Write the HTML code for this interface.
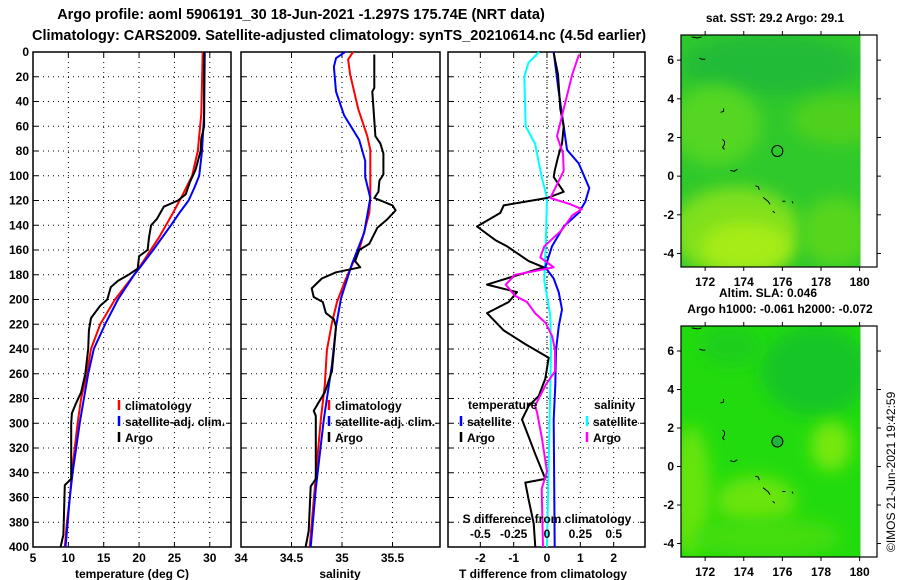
<!DOCTYPE html>
<html><head><meta charset="utf-8"><style>
body{margin:0;background:#fff;}
svg{display:block;font-family:"Liberation Sans",Arial,sans-serif;font-weight:bold;}
</style></head><body>
<svg id="chart" width="900" height="580" viewBox="0 0 900 580" xmlns="http://www.w3.org/2000/svg">
<text x="301" y="19" font-size="14.5" text-anchor="middle">Argo profile: aoml 5906191_30 18-Jun-2021 -1.297S 175.74E (NRT data)</text>
<text x="339" y="40" font-size="14.5" text-anchor="middle">Climatology: CARS2009. Satellite-adjusted climatology: synTS_20210614.nc (4.5d earlier)</text>
<g id="p1"></g>
<g id="p2"></g>
<g id="p3"></g>
<g id="m1"></g>
<g id="m2"></g>
<text x="775" y="22" font-size="12" text-anchor="middle">sat. SST: 29.2 Argo: 29.1</text>
<text x="768" y="297" font-size="12" text-anchor="middle">Altim. SLA: 0.046</text>
<text x="780" y="313" font-size="12" text-anchor="middle">Argo h1000: -0.061 h2000: -0.072</text>
<text transform="translate(895,552) rotate(-90)" font-size="12" font-weight="normal">©IMOS 21-Jun-2021 19:42:59</text>
</svg>
<script>
const depthTicks=[0,20,40,60,80,100,120,140,160,180,200,220,240,260,280,300,320,340,360,380,400];
// temperature panel
const tClimD=[0,50,80,100,115,130,150,170,180,200,220,240,260,280,300,340,360,380,400];
const tClimV=[29.0,28.8,28.3,27.5,26.2,24.8,22.8,20.5,19.3,16.6,14.5,13.2,12.6,11.8,11.3,10.5,10.2,9.8,9.5];
const tSatD=[0,50,80,100,110,120,130,140,160,175,180,200,220,240,260,280,300,340,360,380,400];
const tSatV=[29.3,29.2,28.9,28.5,27.8,27.0,25.7,24.5,22.0,20.0,19.3,17.0,15.2,13.6,12.8,12.2,11.6,10.6,10.2,9.9,9.6];
const tArgoD=[0,60,70,80,95,105,115,120,125,135,140,150,160,165,175,180,185,190,200,205,215,225,240,260,275,285,292,300,345,350,390,400];
const tArgoV=[29.2,29.2,28.8,28.7,28.0,27.2,26.6,25.5,23.5,22.5,21.7,21.4,21.2,20.0,19.8,18.5,17.0,16.0,15.5,14.5,13.2,12.9,12.8,12.4,11.8,11.0,10.5,10.4,10.4,9.5,9.3,8.9];
const tTicks=[5,10,15,20,25,30];
// salinity panel
const sClimD=[0,6,18,46,68,79,118,130,157,185,202,219,241,269,297,353,400];
const sClimV=[35.11,35.06,35.08,35.16,35.25,35.28,35.28,35.27,35.18,35.03,34.95,34.9,34.85,34.83,34.79,34.73,34.68];
const sSatD=[0,5,12,32,51,71,88,101,118,146,171,199,222,253,297,353,400];
const sSatV=[35.03,34.94,34.92,34.94,35.02,35.17,35.23,35.23,35.28,35.22,35.1,34.99,34.94,34.9,34.82,34.74,34.69];
const sArgoD=[2,29,32,68,74,82,99,104,113,118,124,128,135,142,155,160,169,174,178,183,191,198,202,211,216,222,241,258,275,283,290,294,345,351,387,400];
const sArgoV=[35.32,35.32,35.3,35.33,35.38,35.41,35.41,35.37,35.36,35.32,35.5,35.53,35.45,35.35,35.27,35.17,35.13,35.18,34.94,34.8,34.7,34.72,34.81,34.84,34.92,34.94,34.92,34.9,34.83,34.77,34.72,34.74,34.74,34.69,34.67,34.64];
const sTicks=[34,34.5,35,35.5];
// difference panel
const dTSatD=[0,32,60,79,90,110,121,130,141,157,174,183,194,208,222,241,269,297,400];
const dTSatV=[0.2,0.35,0.5,0.6,0.95,1.27,1.15,0.95,0.5,0.15,-0.05,0.2,0.35,0.45,0.35,0.27,0.25,0.2,0.23];
const dTArgoD=[1,18,46,60,74,85,96,101,113,118,124,130,141,152,157,169,174,180,188,194,202,211,225,236,247,264,278,286,297,311,325,345,348,362,381,400];
const dTArgoV=[0.2,0.33,0.4,0.5,0.45,0.33,0.23,0.2,0.5,0,-1.3,-1.4,-2.1,-1.55,-1.2,-0.55,-0.1,-0.85,-1.8,-0.9,-1.15,-1.8,-1.3,-0.65,0.05,-0.05,-0.25,-0.55,-0.75,-0.55,-0.35,-0.05,-0.65,-0.55,-0.4,-0.35];
const dSSatD=[0,9,20,60,74,101,118,157,185,213,241,269,400];
const dSSatV=[-0.06,-0.14,-0.17,-0.16,-0.09,-0.04,0,-0.01,-0.02,0.025,0.03,0.025,0];
const dSArgoD=[2,18,46,68,82,96,107,118,123,127,132,144,157,166,174,177,180,188,197,202,211,219,230,241,258,269,286,291,311,339,353,400];
const dSArgoV=[0.24,0.19,0.125,0.075,0.12,0.125,0.075,0.025,0.175,0.26,0.19,0.11,-0.02,-0.05,0.05,-0.09,-0.24,-0.31,-0.24,-0.15,-0.09,-0.01,0.04,0.06,0.06,-0.01,-0.09,-0.075,-0.04,0,-0.04,-0.03];
const dTTicks=[-2,-1,0,1,2];
const dSTicks=[-0.5,-0.25,0,0.25,0.5];
const dSLabels=['-0.5','-0.25','0','0.25','0.5'];
// map data
const lonTicks=[172,174,176,178,180];
const latTicks=[-4,-2,0,2,4,6];
const floatLon=[175.74];
const floatLat=[1.3];

const NS='http://www.w3.org/2000/svg';
function mk(parent,tag,attrs){const e=document.createElementNS(NS,tag);for(const k in attrs)e.setAttribute(k,attrs[k]);parent.appendChild(e);return e;}
const Y0=52,Y1=547;
const yD=d=>Y0+(d/400)*(Y1-Y0);

function panel(g,x0,x1,vmin,vmax,ticks,showDepth){
  const xs=v=>x0+(v-vmin)/(vmax-vmin)*(x1-x0);
  ticks.forEach(t=>{
    const x=xs(t);
    if(x>x0+1&&x<x1-1){
      const l=mk(g,'line',{x1:x,x2:x,y1:Y0,y2:Y1,stroke:'#000','stroke-width':1,'stroke-dasharray':'1,4'});
      
      
    }
    const tk=mk(g,'line',{x1:x,x2:x,y1:Y1,y2:Y1-5,stroke:'#000'});
    
    
    const tk2=mk(g,'line',{x1:x,x2:x,y1:Y0,y2:Y0+5,stroke:'#000'});
    
    
  });
  depthTicks.forEach(d=>{
    const y=yD(d);
    if(d>0&&d<400){
      const l=mk(g,'line',{x1:x0,x2:x1,y1:y,y2:y,stroke:'#000','stroke-width':1,'stroke-dasharray':'1,4'});
      
      
    }
    const a=mk(g,'line',{x1:x0,x2:x0+5,y1:y,y2:y,stroke:'#000'});
    
    
    const b=mk(g,'line',{x1:x1,x2:x1-5,y1:y,y2:y,stroke:'#000'});
    
    
    if(showDepth){
      const t=mk(g,'text',{x:x0-4,y:y+4,'font-size':12,'text-anchor':'end'});
      t.textContent=d;
      
      
    }
  });
  const fr=mk(g,'rect',{x:x0,y:Y0,width:x1-x0,height:Y1-Y0,fill:'none',stroke:'#000','stroke-width':1.5});
  
  
  return xs;
}
function line(g,xs,D,V,col,name){
  const pts=D.map((d,i)=>xs(V[i]).toFixed(1)+','+yD(d).toFixed(1)).join(' ');
  const p=mk(g,'polyline',{points:pts,fill:'none',stroke:col,'stroke-width':2,'stroke-linejoin':'round'});
  
  
}
function txt(g,x,y,s,size,anchor,name,col){
  const t=mk(g,'text',{x:x,y:y,'font-size':size,'text-anchor':anchor||'start',fill:col||'#000'});
  t.textContent=s;
  
  
  return t;
}
function legend(g,x,y,col,label){
  const m=mk(g,'line',{x1:x,x2:x,y1:y-10,y2:y,stroke:col,'stroke-width':2.5});
  
  
  txt(g,x+6,y,label,12,'start','legend-entry');
}

// panel 1
const g1=document.getElementById('p1');
const x1s=panel(g1,33,231,5,33,tTicks,true);
line(g1,x1s,tClimD,tClimV,'#f00','climatology-temperature-line');
line(g1,x1s,tSatD,tSatV,'#00f','satellite-temperature-line');
line(g1,x1s,tArgoD,tArgoV,'#000','argo-temperature-line');
tTicks.forEach(t=>txt(g1,x1s(t),562,String(t),12,'middle','x-tick-label'));
txt(g1,132,578,'temperature (deg C)',12,'middle','x-axis-title');
legend(g1,119,410,'#f00','climatology');legend(g1,119,426,'#00f','satellite-adj. clim.');legend(g1,119,442,'#000','Argo');

// panel 2
const g2=document.getElementById('p2');
const x2s=panel(g2,241,440,34.0,35.97,sTicks,false);
line(g2,x2s,sClimD,sClimV,'#f00','climatology-salinity-line');
line(g2,x2s,sSatD,sSatV,'#00f','satellite-salinity-line');
line(g2,x2s,sArgoD,sArgoV,'#000','argo-salinity-line');
sTicks.forEach(t=>txt(g2,x2s(t),562,String(t),12,'middle','x-tick-label'));
txt(g2,340,578,'salinity',12,'middle','x-axis-title');
legend(g2,329,410,'#f00','climatology');legend(g2,329,426,'#00f','satellite-adj. clim.');legend(g2,329,442,'#000','Argo');

// panel 3
const g3=document.getElementById('p3');
const x3s=panel(g3,448,645,-2.97,2.94,dTTicks,false);
const xS=v=>x3s(v*4);
const zl=mk(g3,'line',{x1:x3s(0),x2:x3s(0),y1:Y0,y2:Y1,stroke:'#000','stroke-dasharray':'1,3'});


line(g3,xS,dSSatD,dSSatV,'#0ff','satellite-salinity-difference-line');
line(g3,x3s,dTSatD,dTSatV,'#00f','satellite-temperature-difference-line');
line(g3,x3s,dTArgoD,dTArgoV,'#000','argo-temperature-difference-line');
line(g3,xS,dSArgoD,dSArgoV,'#f0f','argo-salinity-difference-line');
dTTicks.forEach(t=>txt(g3,x3s(t),562,String(t),12,'middle','x-tick-label'));
txt(g3,543,578,'T difference from climatology',12,'middle','x-axis-title');
txt(g3,547,523,'S difference from climatology',12,'middle','secondary-axis-title');
dSTicks.forEach((t,i)=>txt(g3,xS(t),538,dSLabels[i],12,'middle','secondary-tick-label'));
txt(g3,468,409,'temperature',12,'start','legend-heading');
txt(g3,594,409,'salinity',12,'start','legend-heading');
legend(g3,461,426,'#00f','satellite');legend(g3,461,442,'#000','Argo');
legend(g3,587,426,'#0ff','satellite');legend(g3,587,442,'#f0f','Argo');

// maps
function map(id,top,bottom,kind){
  const g=document.getElementById(id);
  const L=681,R=877,lonMin=170.75,lonMax=180.9,latMax=7.3,latMin=-4.7;
  const xm=v=>L+(v-lonMin)/(lonMax-lonMin)*(R-L);
  const ym=v=>top+(latMax-v)/(latMax-latMin)*(bottom-top);
  const dr=xm(180.05);
  const cid=id+'clip';
  const defs=mk(g,'defs',{});
  const cp=mk(defs,'clipPath',{id:cid});mk(cp,'rect',{x:L,y:top,width:dr-L,height:bottom-top});
  const f=mk(defs,'filter',{id:id+'blur',x:'-50%',y:'-50%',width:'200%',height:'200%'});mk(f,'feGaussianBlur',{stdDeviation:8});
  const bg=mk(g,'g',{'clip-path':'url(#'+cid+')'});
  
  
  const blobs=kind===1?[
    ['#2fc92c',L,top,dr-L,bottom-top,0],
    ['#22bb38',L,top,dr-L,60,1],
    ['#55d624',L-10,top+50,90,80,1],
    ['#4fd01e',L+110,top+60,100,50,1],
    ['#80e01a',L-10,bottom-80,130,90,1],
    ['#a6ec14',L+20,bottom-45,90,50,1],
    ['#57d51c',L+120,bottom-70,70,70,1]
  ]:[
    ['#22db0e',L,top,dr-L,bottom-top,0],
    ['#14c626',L+80,top,110,90,1],
    ['#1dcf1c',L+20,top,60,40,1],
    ['#66e40a',L-10,top+100,40,130,1],
    ['#77e80a',L+130,top+95,40,50,1],
    ['#6ae40a',L+35,top+150,80,50,1],
    ['#44dd0c',L+10,bottom-40,150,40,1]
  ];
  blobs.forEach(b=>{
    mk(bg,b[5]?'ellipse':'rect',b[5]?{cx:b[1]+b[3]/2,cy:b[2]+b[4]/2,rx:b[3]/2,ry:b[4]/2,fill:b[0],filter:'url(#'+id+'blur)'}:{x:b[1],y:b[2],width:b[3],height:b[4],fill:b[0]});
  });
  const isl=mk(g,'path',{d:`M${xm(171.3)},${ym(7.2)}l6,1l4,-1 M${xm(171.7)},${ym(6.1)}l3,1l3,0 M${xm(172.8)},${ym(3.3)}l3,-1l0,-3 M${xm(172.9)},${ym(1.9)}l2,2l0,3l-2,3l2,2 M${xm(173.3)},${ym(0.3)}l4,1l3,-2 M${xm(174.6)},${ym(-0.5)}l3,1l1,3 M${xm(175.0)},${ym(-1.1)}l5,4l2,3 M${xm(175.5)},${ym(-1.8)}l2,2 M${xm(176)},${ym(-1.3)}l3,0 M${xm(176.5)},${ym(-1.3)}l1,2`,stroke:'#000','stroke-width':1,fill:'none'});
  
  
  floatLon.forEach((lo,i)=>{
    const c=mk(g,'circle',{cx:xm(lo),cy:ym(floatLat[i]),r:5.5,fill:kind===2?'#1fb43a':'none',stroke:'#000','stroke-width':1});
    
    
  });
  const fr=mk(g,'rect',{x:L,y:top,width:R-L,height:bottom-top,fill:'none',stroke:'#000','stroke-width':1.2});
  
  
  lonTicks.forEach(t=>{
    const a=mk(g,'line',{x1:xm(t),x2:xm(t),y1:top,y2:top-4,stroke:'#000'});
    
    
    const b=mk(g,'line',{x1:xm(t),x2:xm(t),y1:bottom,y2:bottom+4,stroke:'#000'});
    
    
    txt(g,xm(t),bottom+19,String(t),12,'middle','lon-tick-label');
  });
  latTicks.forEach(t=>{
    const a=mk(g,'line',{x1:L,x2:L-4,y1:ym(t),y2:ym(t),stroke:'#000'});
    
    
    const b=mk(g,'line',{x1:R,x2:R+4,y1:ym(t),y2:ym(t),stroke:'#000'});
    
    
    txt(g,L-7,ym(t)+4,String(t),12,'end','lat-tick-label');
  });
}
map('m1',35,267,1);
map('m2',326,557,2);
</script>
</body></html>
